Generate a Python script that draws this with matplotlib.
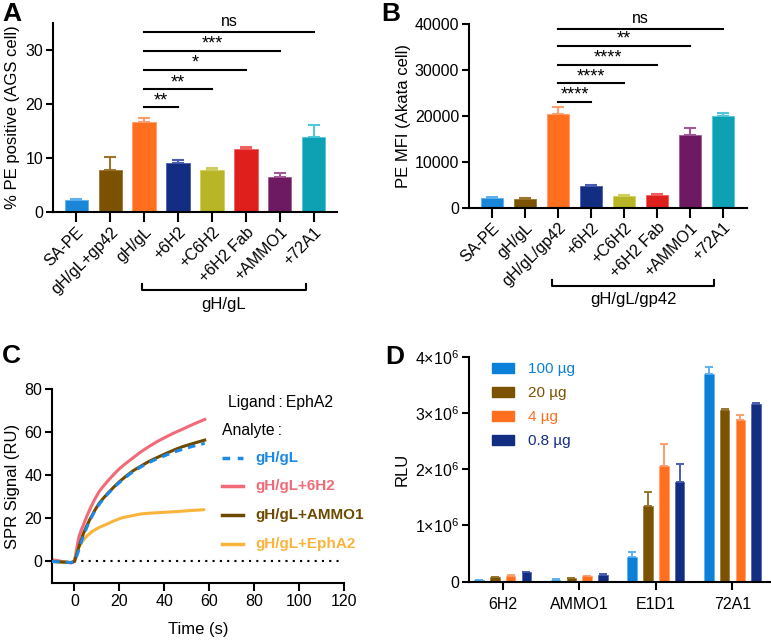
import numpy as np
import matplotlib
matplotlib.use('Agg')
import matplotlib.pyplot as plt
from matplotlib.patches import Patch
from matplotlib.lines import Line2D

plt.rcParams['font.family'] = ['Liberation Sans', 'DejaVu Sans']
plt.rcParams['mathtext.fontset'] = 'custom'
plt.rcParams['mathtext.rm'] = 'Liberation Sans'
plt.rcParams['mathtext.it'] = 'Liberation Sans:italic'
plt.rcParams['axes.linewidth'] = 1.5

# ---- panel A data ----
a_labels = ['SA-PE', 'gH/gL+gp42', 'gH/gL', '+6H2', '+C6H2', '+6H2 Fab', '+AMMO1', '+72A1']
a_values = [2.3, 7.8, 16.6, 9.0, 7.7, 11.6, 6.5, 13.8]
a_err = [0.15, 2.4, 0.8, 0.7, 0.4, 0.4, 0.7, 2.4]
a_sig_targets = [3, 4, 5, 6, 7]
a_sig_heights = [19.4, 22.7, 26.3, 29.8, 33.3]
a_sig_text = ['**', '**', '*', '***', 'ns']

# ---- panel B data ----
b_labels = ['SA-PE', 'gH/gL', 'gH/gL/gp42', '+6H2', '+C6H2', '+6H2 Fab', '+AMMO1', '+72A1']
b_values = [2100, 2000, 20300, 4700, 2600, 2800, 15900, 20000]
b_err = [300, 200, 1700, 200, 80, 200, 1500, 600]
b_sig_targets = [3, 4, 5, 6, 7]
b_sig_heights = [23100, 27100, 31150, 35200, 38900]
b_sig_text = ['****', '****', '****', '**', 'ns']

bar_colors = ['#1A86D8', '#7A5200', '#FF6F1E', '#132D83', '#B8B526', '#DE1F1B', '#6E1A62', '#0EA0B3']
err_colors = ['#5FB0EE', '#9A7530', '#FF9E70', '#4A5DB0', '#D0CE60', '#F06060', '#A05A95', '#50C8D8']

# ---- panel C data ----
t_gh = [-10, -1.5, 0, 1, 2, 3, 4, 5.5, 7, 9, 11, 13, 15, 17.5, 20, 23, 26, 29.5, 33, 37, 41, 44.5, 48, 53, 58]
v_gh = [0, -0.5, 0, 2.5, 5.5, 9, 12, 15.8, 19.3, 23.3, 26.5, 29.2, 31.5, 34.2, 36.6, 39.2, 41.6, 43.8, 45.8, 47.7, 49.4, 50.8, 52, 53.5, 54.8]
t_6h2 = [-10, -1.5, 0, 1, 2, 3, 4, 5.5, 7, 9, 11, 13, 15, 17.5, 20, 23, 26, 29.5, 33, 37, 41, 44.5, 48, 53, 58]
v_6h2 = [0.8, -0.7, 0, 6, 11.5, 14.5, 17, 21, 24.5, 28.8, 32.4, 35.1, 37.5, 40.4, 43, 45.6, 48, 50.8, 53.2, 55.7, 57.9, 59.7, 61.3, 63.7, 65.9]
t_ammo = [-10, -1.5, 0, 1, 2, 3, 4, 5.5, 7, 9, 11, 13, 15, 17.5, 20, 23, 26, 29.5, 33, 37, 41, 44.5, 48, 53, 58]
v_ammo = [0, -0.5, 0, 3.5, 6.9, 10, 13, 16.6, 19.8, 23.6, 27, 29.5, 31.8, 34.5, 37, 39.6, 42, 44.2, 46.3, 48.3, 50.2, 51.8, 53.2, 54.8, 56.3]
t_epha2 = [-10, -1.5, 0, 0.7, 1.4, 2.5, 3.6, 5.5, 8, 11, 14, 17.5, 21, 25.5, 30, 35, 40, 45, 49, 53, 57.5]
v_epha2 = [0, -0.5, 0, 3, 5.6, 7.7, 9.4, 11.8, 14, 15.8, 17.1, 18.8, 20.2, 21.2, 22.1, 22.5, 22.8, 23.1, 23.4, 23.7, 24]
c_names = ['gH/gL', 'gH/gL+6H2', 'gH/gL+AMMO1', 'gH/gL+EphA2']
c_colors = ['#1E88E5', '#F26A78', '#6E4A00', '#F9B43C']

# ---- panel D data ----
d_groups = ['6H2', 'AMMO1', 'E1D1', '72A1']
d_doses = ['100 µg', '20 µg', '4 µg', '0.8 µg']
d_values = [[0.03e6, 0.035e6, 0.44e6, 3.70e6],
            [0.077e6, 0.06e6, 1.34e6, 3.06e6],
            [0.11e6, 0.095e6, 2.06e6, 2.88e6],
            [0.17e6, 0.12e6, 1.77e6, 3.16e6]]
d_err = [[0.005e6, 0.005e6, 0.08e6, 0.12e6],
         [0.008e6, 0.005e6, 0.25e6, 0.01e6],
         [0.005e6, 0.005e6, 0.38e6, 0.08e6],
         [0.01e6, 0.01e6, 0.32e6, 0.02e6]]
d_colors = ['#0A80D8', '#7A5200', '#FF6F1E', '#132D83']
d_err_colors = ['#5FB0EE', '#9A7530', '#FF9E70', '#4A5DB0']
d_yticks = [0, 1e6, 2e6, 3e6, 4e6]
d_ytick_labels = ['0', '1×10$^{6}$', '2×10$^{6}$', '3×10$^{6}$', '4×10$^{6}$']

TICK_FS = 11.5
LABEL_FS = 12

W, H = 771, 640
fig = plt.figure(figsize=(W / 100, H / 100), dpi=100)


def rect(l, t, r, b):
    return [l / W, 1 - b / H, (r - l) / W, (b - t) / H]


def style(ax):
    for s in ['top', 'right']:
        ax.spines[s].set_visible(False)
    ax.tick_params(width=1.5, length=5, labelsize=TICK_FS, color='black', pad=2)


def bar_panel(ax, labels, values, err, targets, heights, texts, ref, bracket, group_label):
    x = np.arange(len(labels))
    ax.bar(x, values, width=0.68, color=bar_colors, edgecolor=err_colors, linewidth=0.6, zorder=2)
    for xi, v, e, c in zip(x, values, err, err_colors):
        ax.errorbar(xi, v, yerr=[[0], [e]], color=c, capsize=4, elinewidth=1.5, capthick=1.5, zorder=1)
    top = ax.get_ylim()[1]
    for tg, h, tx in zip(targets, heights, texts):
        ax.plot([ref, tg], [h, h], color='black', lw=1.5, clip_on=False)
        dy = 0.015 * top if tx == 'ns' else -0.01 * top
        ax.text((ref + tg) / 2, h + dy, tx, ha='center', va='bottom', fontsize=11.5 if tx == 'ns' else 13)
    ax.set_xticks(x)
    ax.set_xticklabels(labels, rotation=45, ha='right', rotation_mode='anchor', fontsize=TICK_FS)
    tr = ax.get_xaxis_transform()
    x0, x1, yb = bracket
    ax.plot([x0, x0, x1, x1], [yb + 0.03, yb, yb, yb + 0.03], color='black', lw=1.5, transform=tr, clip_on=False)
    ax.text((x0 + x1) / 2, yb - 0.035, group_label, transform=tr, ha='center', va='top', fontsize=LABEL_FS)


# ---- A ----
axA = fig.add_axes(rect(53, 23, 337, 212))
axA.set_ylim(0, 35)
axA.set_xlim(-0.68, 7.68)
style(axA)
bar_panel(axA, a_labels, a_values, a_err, a_sig_targets, a_sig_heights, a_sig_text, 2, (1.94, 6.76, -0.413), 'gH/gL')
axA.set_yticks([0, 10, 20, 30])
axA.tick_params(axis='x', length=7)
axA.set_ylabel('% PE positive (AGS cell)', fontsize=LABEL_FS, labelpad=4)

# ---- B ----
axB = fig.add_axes(rect(469, 24, 747, 207.7))
axB.set_ylim(0, 40000)
axB.set_xlim(-0.7, 7.73)
style(axB)
bar_panel(axB, b_labels, b_values, b_err, b_sig_targets, b_sig_heights, b_sig_text, 2, (1.82, 6.73, -0.425), 'gH/gL/gp42')
axB.set_yticks([0, 10000, 20000, 30000, 40000])
axB.tick_params(axis='x', length=7)
axB.set_ylabel('PE MFI (Akata cell)', fontsize=LABEL_FS, labelpad=3)

# ---- C ----
axC = fig.add_axes(rect(52, 389, 344, 583))
style(axC)
axC.plot([0, 118], [0, 0], color='black', lw=1.5, ls=(0, (1, 2.5)), zorder=1)
axC.plot(t_6h2, v_6h2, color=c_colors[1], lw=2.2, zorder=2)
axC.plot(t_epha2, v_epha2, color=c_colors[3], lw=2.2, zorder=2)
axC.plot(t_ammo, v_ammo, color=c_colors[2], lw=2.2, zorder=3)
axC.plot(t_gh, v_gh, color=c_colors[0], lw=2.2, dashes=(2.5, 2), zorder=4)
axC.set_xlim(-10, 120)
axC.set_ylim(-10, 80)
axC.set_xticks([0, 20, 40, 60, 80, 100, 120])
axC.set_yticks([0, 20, 40, 60, 80])
axC.tick_params(axis='x', length=6)
axC.set_xlabel('Time (s)', fontsize=LABEL_FS, labelpad=9)
axC.set_ylabel('SPR Signal (RU)', fontsize=LABEL_FS, labelpad=3)


def fpos(px, py):
    return px / W, 1 - py / H


fig.text(*fpos(228, 402), 'Ligand\u2009:\u2009EphA2', fontsize=11.3, va='center', ha='left')
fig.text(*fpos(222, 430), 'Analyte\u2009:', fontsize=11.3, va='center', ha='left')
entry_y = [458, 486, 515, 544]
for i, (name, col, yy) in enumerate(zip(c_names, c_colors, entry_y)):
    xa, ya = fpos(222, yy)
    xb, _ = fpos(243, yy)
    ls = (0, (2.2, 2.2)) if i == 0 else '-'
    fig.add_artist(Line2D([xa, xb], [ya, ya], color=col, lw=2.5, ls=ls, transform=fig.transFigure))
    fig.text(*fpos(255, yy), name, color=col, fontsize=11, fontweight='bold', va='center', ha='left')

# ---- D ----
axD = fig.add_axes(rect(469, 356.7, 770, 581.7))
style(axD)
gx = np.arange(len(d_groups))
offs = [-0.31, -0.103, 0.103, 0.31]
for k in range(4):
    axD.bar(gx + offs[k], d_values[k], width=0.125, color=d_colors[k], edgecolor=d_err_colors[k], linewidth=0.5, zorder=2)
    axD.errorbar(gx + offs[k], d_values[k], yerr=[np.zeros(4), d_err[k]], fmt='none', ecolor=d_err_colors[k],
                 capsize=3, elinewidth=1.4, capthick=1.4, zorder=1)
axD.set_xlim(-0.44, 3.49)
axD.set_ylim(0, 4e6)
axD.set_yticks(d_yticks)
axD.set_yticklabels(d_ytick_labels)
axD.set_xticks(gx)
axD.set_xticklabels(d_groups, fontsize=TICK_FS)
axD.tick_params(axis='x', length=6, pad=5)
axD.set_ylabel('RLU', fontsize=LABEL_FS, labelpad=4)
handles = [Patch(facecolor=c, edgecolor=c) for c in d_colors]
leg = axD.legend(handles, d_doses, loc='upper left', bbox_to_anchor=(0.075, 0.975), frameon=False,
                 fontsize=11, handlelength=1.5, handleheight=0.6, handletextpad=0.9,
                 labelspacing=0.65, borderpad=0, borderaxespad=0)
for t, c in zip(leg.get_texts(), d_colors):
    t.set_color(c)

# panel letters
for letter, (px, py) in zip('ABCD', [(2, 21), (381, 21), (2, 363), (385, 364)]):
    fig.text(*fpos(px, py), letter, fontsize=19, fontweight='bold', va='baseline', ha='left')

fig.savefig('out.png', dpi=100)
